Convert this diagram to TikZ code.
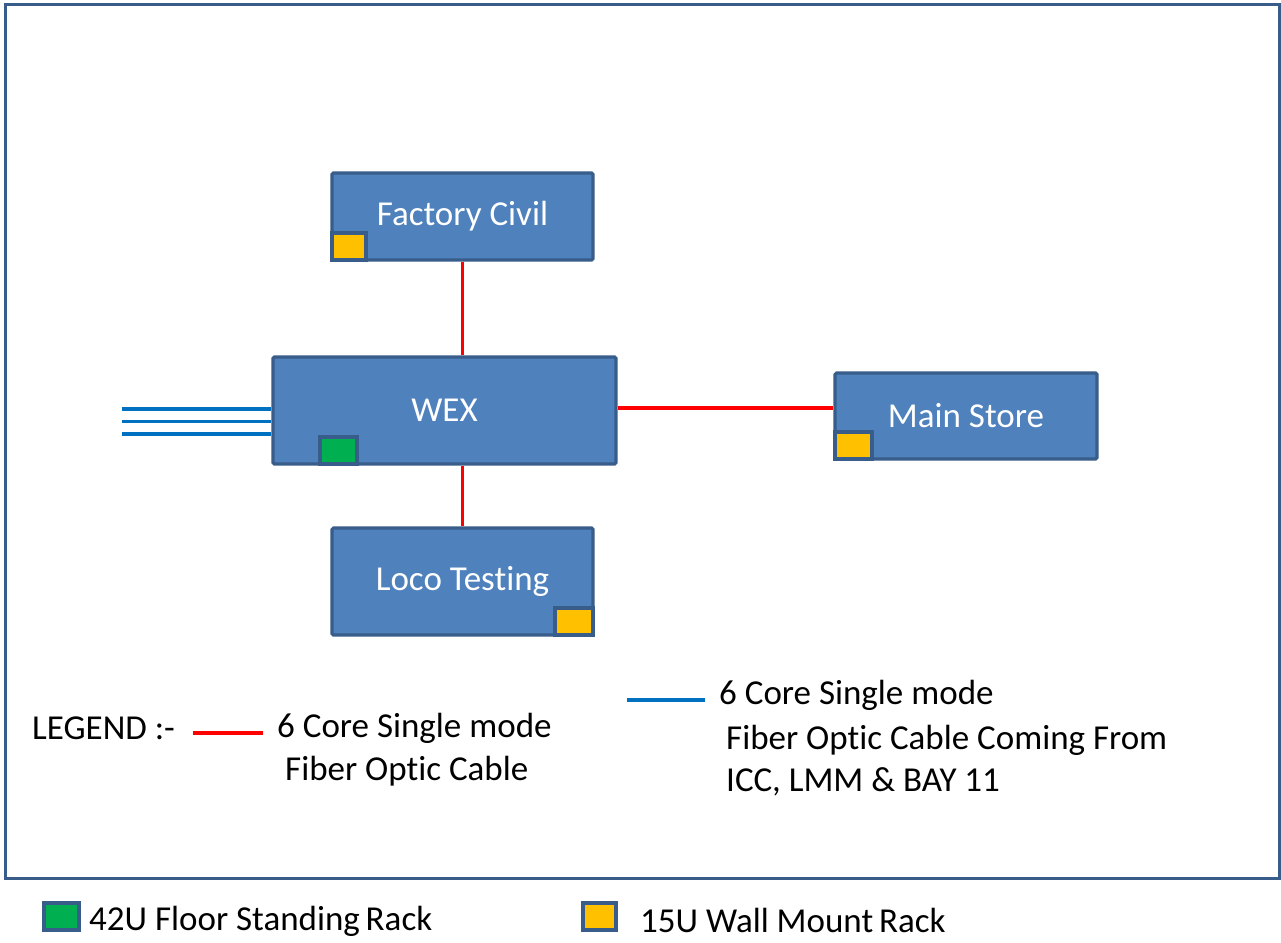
\documentclass[tikz,border=0pt]{standalone}
\usepackage{fontspec}
\setmainfont[Ligatures={NoCommon}]{Carlito}
\definecolor{boxfill}{HTML}{4F81BD}
\definecolor{boxline}{HTML}{385D8A}
\definecolor{cablered}{HTML}{FF0000}
\definecolor{cableblue}{HTML}{0070C0}
\definecolor{rackgreen}{HTML}{00B050}
\definecolor{rackyellow}{HTML}{FFC000}
\tikzset{
  site/.style={draw=boxline, fill=boxfill, line width=3.2pt, rounded corners=1.5pt,
    text=white, font=\fontsize{35}{42}\selectfont, inner sep=0pt},
  rack/.style={draw=boxline, line width=3.2pt, inner sep=0pt,
    minimum width=#1, minimum height=27pt},
  rack/.default=34pt,
  redcable/.style={draw=cablered, line width=3.6pt},
  bluecable/.style={draw=cableblue, line width=3.6pt},
  label/.style={font=\fontsize{35}{42}\selectfont, inner sep=0pt, anchor=west, text=black}
}
\begin{document}
\begin{tikzpicture}[x=1pt, y=-1pt]
  \useasboundingbox (0,0) rectangle (1281,942);
  \fill[white] (0,0) rectangle (1281,942);
  % outer frame
  \draw[boxline, line width=3pt] (5,5) rectangle (1279,878);

  % sites
  \node[site, minimum width=261pt, minimum height=87pt] (fc) at (462.5,216.5) {Factory Civil};
  \node[site, minimum width=343pt, minimum height=107pt] (wex) at (444.5,410.5) {WEX};
  \node[site, minimum width=262pt, minimum height=86pt] (ms) at (966,416) {Main Store};
  \node[site, minimum width=261pt, minimum height=107pt] (lt) at (462.5,581.5) {Loco Testing};

  % racks inside the sites
  \node[rack, fill=rackyellow, anchor=south west] (fcr) at (fc.south west) {};
  \node[rack=37pt, fill=rackgreen, anchor=south west] (wexr) at ([xshift=47pt]wex.south west) {};
  \node[rack=37pt, fill=rackyellow, anchor=south west] (msr) at (ms.south west) {};
  \node[rack=38pt, fill=rackyellow, anchor=south east] (ltr) at (lt.south east) {};

  % red cables
  \draw[redcable] (fc.south) -- (fc.south |- wex.north);
  \draw[redcable] (lt.north) -- (lt.north |- wex.south);
  \coordinate (wexe) at ([yshift=2.5pt]wex.east);
  \draw[redcable] (wexe) -- (wexe -| ms.west);

  % incoming blue cables
  \coordinate (b1) at (122,409);
  \coordinate (b2) at (122,421.5);
  \coordinate (b3) at (122,434);
  \draw[bluecable] (b1) -- (b1 -| wex.west);
  \draw[bluecable] (b2) -- (b2 -| wex.west);
  \draw[bluecable] (b3) -- (b3 -| wex.west);

  % legend
  \node[label] (leg) at (32,728) {LEGEND :-};
  \coordinate (r1) at (193,733);
  \coordinate (r2) at (263,733);
  \draw[redcable] (r1) -- (r2);
  \node[label] (rt1) at (277,728) {6 Core Single mode};
  \node[label] (rt2) at (285,771) {Fiber Optic Cable};

  \coordinate (l1) at (627,700);
  \coordinate (l2) at (705,700);
  \draw[bluecable] (l1) -- (l2);
  \node[label] (bt1) at (719,695) {6 Core Single mode};
  \node[label] (bt2) at (726,740) {Fiber Optic Cable Coming From};
  \node[label] (bt3) at (726,782) {ICC, LMM \& BAY 11};

  % rack key
  \node[rack=35pt, fill=rackgreen] (kg) at (61.5,916.5) {};
  \node[label] (kgt) at (89,921) {42U Floor Standing\,Rack};
  \node[rack=33pt, fill=rackyellow] (ky) at (599.5,916.5) {};
  \node[label] (kyt) at (640,920) {15U Wall Mount\,Rack};
\end{tikzpicture}
\end{document}
